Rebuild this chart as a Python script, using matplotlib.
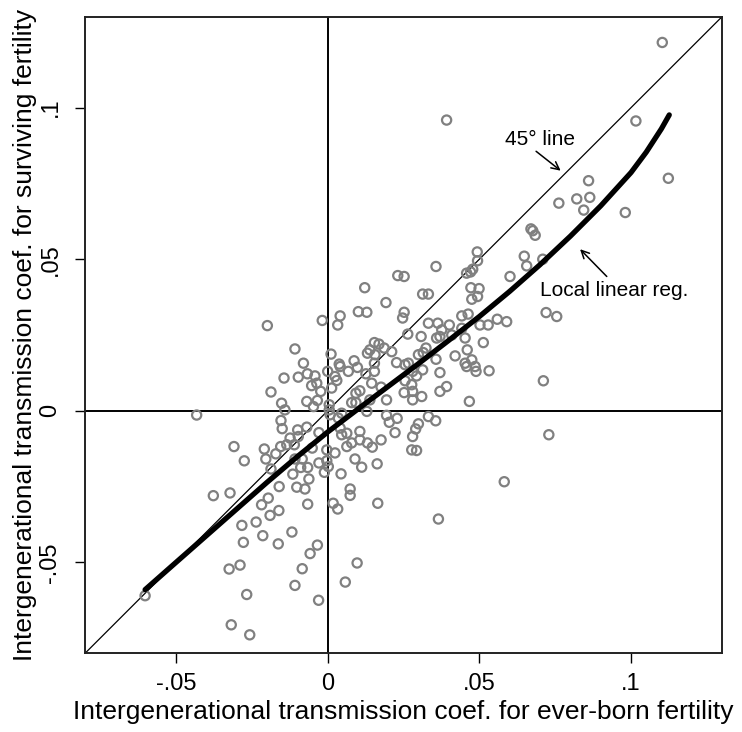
import matplotlib
matplotlib.use("Agg")
import matplotlib.pyplot as plt
import numpy as np

plt.rcParams['font.family'] = ['Liberation Sans', 'DejaVu Sans']

# Scatter: (ever-born coef, surviving coef)
x_ever = [
    -0.0199, -0.0018, 0.0041, 0.0033, 0.0122, 0.0101, 0.0129, 0.0192, 0.0231, 0.0252,
    0.0252, 0.0247, 0.1103, 0.0392, 0.1016, 0.1123, 0.0860, 0.0821, 0.0864, 0.0844,
    0.0762, 0.0981, 0.0670, 0.0676, 0.0684, 0.0493, 0.0494, 0.0648, 0.0656, 0.0709,
    0.0458, 0.0471, 0.0478, 0.0357, 0.0601, 0.0472, 0.0499, 0.0475, 0.0494, 0.0313,
    0.0332, 0.0442, 0.0463, 0.0720, 0.0755, 0.0332, 0.0363, 0.0401, 0.0502, 0.0529,
    0.0559, 0.0590, 0.0376, 0.0442, 0.0409, 0.0308, 0.0359, 0.0370, 0.0453, 0.0513,
    0.0324, 0.0315, 0.0299, 0.0460, 0.0420, 0.0357, 0.0453, 0.0475, 0.0486, 0.0458,
    0.0489, 0.0532, 0.0370, 0.0313, 0.0293, 0.0280, 0.0711, 0.0392, 0.0370, 0.0277,
    0.0280, 0.0310, 0.0280, 0.0467, 0.0332, 0.0356, 0.0299, 0.0290, 0.0280, 0.0277,
    0.0293, 0.0729, 0.0582, 0.0365, 0.0264, -0.0108, 0.0011, 0.0154, 0.0169, 0.0139,
    0.0131, 0.0156, 0.0211, 0.0186, 0.0227, 0.0255, 0.0266, -0.0080, 0.0038, 0.0041,
    0.0087, 0.0098, 0.0068, 0.0154, 0.0154, 0.0126, 0.0000, -0.0144, -0.0097, -0.0067,
    -0.0042, 0.0024, 0.0030, -0.0053, -0.0036, -0.0023, 0.0013, 0.0145, 0.0176, 0.0255,
    0.0252, 0.0106, 0.0093, -0.0069, -0.0034, -0.0047, 0.0005, 0.0005, 0.0008, 0.0079,
    0.0093, 0.0139, 0.0129, 0.0194, -0.0152, -0.0141, 0.0194, 0.0229, 0.0046, 0.0035,
    -0.0187, -0.0432, -0.0154, -0.0150, -0.0069, -0.0099, -0.0097, -0.0124, -0.0110, -0.0135,
    -0.0029, -0.0155, -0.0309, -0.0209, -0.0171, -0.0051, -0.0003, 0.0024, -0.0275, -0.0204,
    -0.0108, -0.0084, -0.0066, -0.0089, -0.0115, -0.0187, -0.0029, -0.0003, 0.0002, -0.0011,
    0.0044, -0.0062, -0.0160, -0.0102, -0.0075, -0.0377, -0.0322, -0.0196, -0.0218, -0.0066,
    0.0018, 0.0033, 0.0074, 0.0074, 0.0165, -0.0161, -0.0190, -0.0236, -0.0283, -0.0214,
    -0.0278, -0.0163, -0.0118, -0.0034, -0.0058, -0.0084, 0.0097, 0.0058, -0.0325, -0.0289,
    -0.0108, -0.0267, -0.0030, -0.0602, -0.0318, -0.0257, 0.0041, 0.0063, 0.0046, 0.0106,
    0.0063, 0.0079, 0.0106, 0.0131, 0.0147, 0.0176, 0.0090, 0.0112, 0.0163, 0.0203,
    0.0222,
]
y_surv = [
    0.0281, 0.0298, 0.0313, 0.0283, 0.0406, 0.0327, 0.0325, 0.0357, 0.0446, 0.0443,
    0.0325, 0.0306, 0.1215, 0.0959, 0.0956, 0.0767, 0.0759, 0.0699, 0.0704, 0.0662,
    0.0685, 0.0654, 0.0600, 0.0594, 0.0579, 0.0524, 0.0495, 0.0510, 0.0478, 0.0500,
    0.0454, 0.0458, 0.0467, 0.0476, 0.0443, 0.0406, 0.0403, 0.0368, 0.0377, 0.0385,
    0.0385, 0.0313, 0.0319, 0.0324, 0.0311, 0.0289, 0.0289, 0.0283, 0.0283, 0.0283,
    0.0302, 0.0294, 0.0267, 0.0272, 0.0250, 0.0245, 0.0240, 0.0245, 0.0240, 0.0225,
    0.0207, 0.0192, 0.0185, 0.0201, 0.0181, 0.0170, 0.0157, 0.0168, 0.0146, 0.0146,
    0.0130, 0.0132, 0.0126, 0.0135, 0.0115, 0.0130, 0.0099, 0.0080, 0.0064, 0.0086,
    0.0064, 0.0047, 0.0036, 0.0031, -0.0019, -0.0033, -0.0043, -0.0060, -0.0085, -0.0129,
    -0.0131, -0.0079, -0.0234, -0.0357, 0.0253, 0.0204, 0.0187, 0.0225, 0.0220, 0.0201,
    0.0190, 0.0185, 0.0195, 0.0207, 0.0159, 0.0152, 0.0157, 0.0157, 0.0154, 0.0146,
    0.0165, 0.0143, 0.0130, 0.0157, 0.0130, 0.0122, 0.0130, 0.0108, 0.0111, 0.0122,
    0.0115, 0.0113, 0.0100, 0.0083, 0.0091, 0.0064, 0.0075, 0.0091, 0.0078, 0.0099,
    0.0060, 0.0066, 0.0058, 0.0031, 0.0034, 0.0014, 0.0020, 0.0003, -0.0013, 0.0027,
    0.0027, 0.0036, -0.0002, 0.0036, 0.0025, 0.0003, -0.0015, -0.0025, -0.0008, -0.0024,
    0.0062, -0.0014, -0.0032, -0.0059, -0.0054, -0.0063, -0.0085, -0.0090, -0.0112, -0.0112,
    -0.0072, -0.0118, -0.0118, -0.0126, -0.0142, -0.0123, -0.0129, -0.0139, -0.0165, -0.0159,
    -0.0159, -0.0159, -0.0187, -0.0187, -0.0209, -0.0192, -0.0172, -0.0165, -0.0184, -0.0203,
    -0.0208, -0.0225, -0.0250, -0.0252, -0.0258, -0.0280, -0.0271, -0.0288, -0.0310, -0.0308,
    -0.0305, -0.0324, -0.0258, -0.0279, -0.0305, -0.0329, -0.0345, -0.0367, -0.0378, -0.0412,
    -0.0434, -0.0439, -0.0400, -0.0443, -0.0471, -0.0521, -0.0502, -0.0565, -0.0522, -0.0509,
    -0.0576, -0.0606, -0.0625, -0.0610, -0.0706, -0.0739, -0.0057, -0.0074, -0.0079, -0.0068,
    -0.0118, -0.0106, -0.0096, -0.0106, -0.0120, -0.0096, -0.0159, -0.0186, -0.0175, -0.0038,
    -0.0072,
]

# Local linear regression fit
fit_x = [-0.0602, -0.05, -0.04, -0.03, -0.02, -0.01, 0.00, 0.01, 0.02, 0.03,
         0.04, 0.05, 0.06, 0.07, 0.08, 0.09, 0.10, 0.105, 0.11, 0.1126]
fit_y = [-0.0590, -0.0500, -0.0412, -0.0324, -0.0236, -0.0151, -0.0070, 0.0006,
         0.0081, 0.0156, 0.0233, 0.0311, 0.0394, 0.0482, 0.0576, 0.0676, 0.0786,
         0.0853, 0.0930, 0.0976]

lims = [-0.08, 0.13]
ticks = [-0.05, 0, 0.05, 0.1]
tick_labels = ['-.05', '0', '.05', '.1']

fig = plt.figure(figsize=(7.42, 7.32), dpi=100)
ax = fig.add_axes([0.1146, 0.1075, 0.8585, 0.8697])

ax.axhline(0, color='black', lw=1.4, zorder=1)
ax.axvline(0, color='black', lw=1.4, zorder=1)
ax.plot(lims, lims, color='black', lw=0.9, zorder=2)
ax.scatter(x_ever, y_surv, s=44, facecolors='none', edgecolors='#808080',
           linewidths=1.6, zorder=3)
ax.plot(fit_x, fit_y, color='black', lw=3.8, solid_capstyle='round',
        solid_joinstyle='round', zorder=4)

# annotations
ax.text(0.0699, 0.0896, '45° line', ha='center', va='center', fontsize=15)
ax.annotate('', xy=(0.0768, 0.0792), xytext=(0.0687, 0.0856),
            arrowprops=dict(arrowstyle='->', color='black', lw=1.1,
                            shrinkA=0, shrinkB=0, mutation_scale=14))
ax.text(0.0700, 0.0396, 'Local linear reg.', ha='left', va='center', fontsize=15)
ax.annotate('', xy=(0.0832, 0.0533), xytext=(0.0920, 0.0443),
            arrowprops=dict(arrowstyle='->', color='black', lw=1.1,
                            shrinkA=0, shrinkB=0, mutation_scale=14))

ax.set_xlim(lims)
ax.set_ylim(lims)
ax.set_xticks(ticks)
ax.set_xticklabels(tick_labels)
ax.set_yticks(ticks)
ax.set_yticklabels(tick_labels, rotation=90, va='center')
ax.tick_params(direction='out', length=7, width=1.0, labelsize=17, pad=7)
ax.tick_params(axis='y', pad=10)
for s in ax.spines.values():
    s.set_linewidth(1.4)
    s.set_color('#222222')

ax.set_xlabel('Intergenerational transmission coef. for ever-born fertility',
              fontsize=19, labelpad=4)
ax.set_ylabel('Intergenerational transmission coef. for surviving fertility',
              fontsize=19, labelpad=2)

fig.savefig('out.png', dpi=100)
